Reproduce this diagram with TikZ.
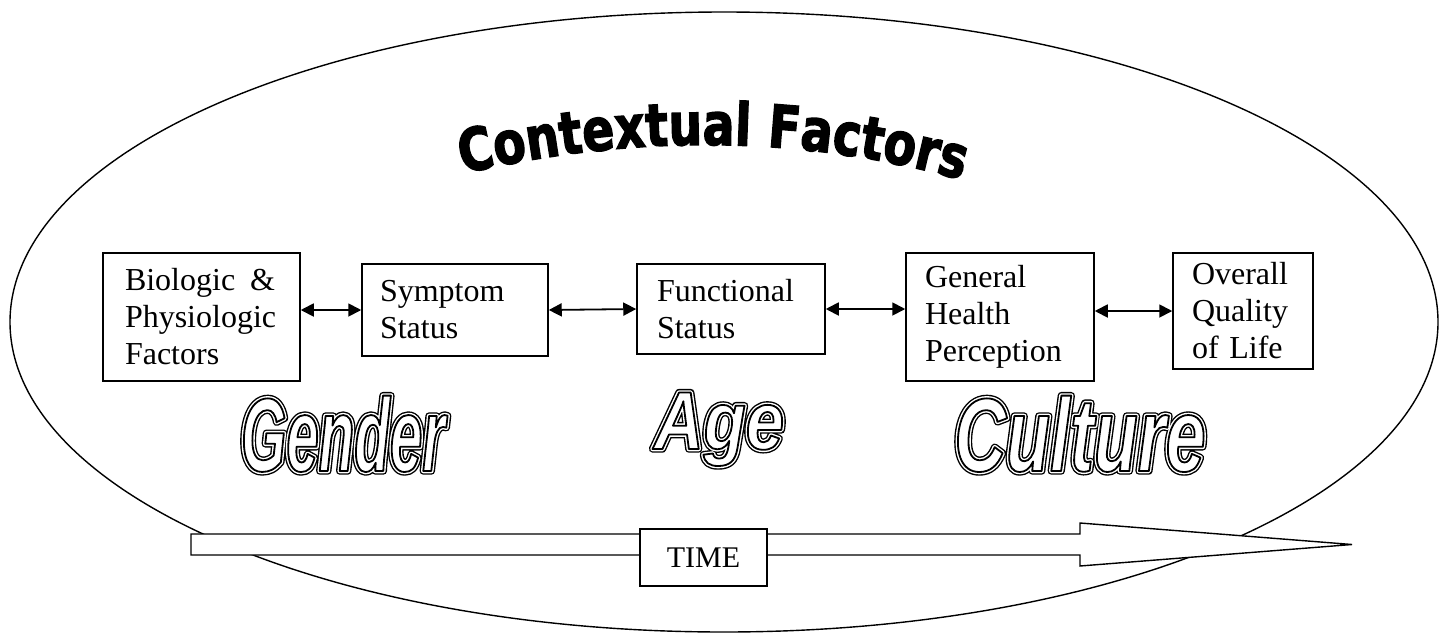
\documentclass[tikz,border=0pt]{standalone}
\usepackage{fontspec}
\setmainfont{Liberation Serif}
\newfontfamily\headfont[FakeStretch=0.8,FakeBold=2.2]{DejaVu Sans}
\newfontfamily\wordfont{Liberation Sans}
\usetikzlibrary{arrows.meta,decorations.text}

% hollow lettering by text render modes: wide black stroke, narrower white
% stroke, then white face with a thin black edge
\newcommand\rmode[1]{\special{pdf:literal direct #1}}
\newcommand\hollow[2]{{\wordfont\bfseries\itshape\addfontfeature{FakeStretch=#1}%
  \makebox[0pt][l]{\color{black}\rmode{1 j 7.4 w 1 Tr}#2\rmode{0 Tr}}%
  \makebox[0pt][l]{\color{white}\rmode{1 j 4.6 w 1 Tr}#2\rmode{0 Tr}}%
  {\color{white}\rmode{0 G 1 j 1.8 w 2 Tr}#2\rmode{0 Tr}}}}

\tikzset{
  stagebox/.style={draw, line width=1.5pt, fill=white, align=left,
    font=\fontsize{32}{37}\selectfont},
  link/.style={line width=1.8pt,
    {Triangle[length=13pt,width=13pt]}-{Triangle[length=13pt,width=13pt]}},
  bigword/.style={anchor=base, inner sep=0pt}
}

\begin{document}
\begin{tikzpicture}[x=1pt,y=-1pt]
\useasboundingbox (0,0) rectangle (1443,635);

% surrounding context
\draw[line width=1.4pt] (724,322) ellipse [x radius=714pt, y radius=310pt];

% time arrow
\draw[line width=1.4pt, fill=white]
  (191,534) -- (1080,534) -- (1080,523) -- (1352,544.5) -- (1080,566)
  -- (1080,555) -- (191,555) -- cycle;
\node[draw, line width=1.4pt, fill=white, minimum width=127pt, minimum height=57pt,
  font=\fontsize{30}{34}\selectfont] (time) at (703.5,557.5) {TIME};

% heading on an arch
\path[decorate, decoration={text along path, text align=center,
  text={|\headfont\bfseries\fontsize{59}{59}\selectfont|Contextual Factors}}]
  (470,172) .. controls (640,134) and (800,136) .. (955,178);

% stages
\node[stagebox, minimum width=197pt, minimum height=128pt, text width=153pt, inner xsep=22pt]
  (bio) at (201.5,317) {Biologic\hspace{15pt}\&\\Physiologic\\Factors};
\node[stagebox, minimum width=186pt, minimum height=92pt, text width=150pt, inner xsep=18pt]
  (sym) at (455,310) {Symptom\\Status};
\node[stagebox, minimum width=188pt, minimum height=90pt, text width=148pt, inner xsep=20pt]
  (fun) at (731,309) {Functional\\Status};
\node[stagebox, minimum width=188pt, minimum height=128pt, text width=150pt, inner xsep=19pt]
  (ghp) at (1000,317) {General\\Health\\Perception};
\node[stagebox, minimum width=140pt, minimum height=116pt, text width=102pt, inner xsep=19pt]
  (qol) at (1243,311) {Overall\\Quality\\of Life};

\draw[link] (sym.west -| bio.east) -- (sym.west);
\draw[link] (sym.east) -- (fun.west);
\draw[link] (fun.east) -- (fun.east -| ghp.west);
\draw[link] (qol.west -| ghp.east) -- (qol.west);

% contextual factors
\node[bigword, font=\fontsize{104}{110}\selectfont] (gender) at (343,471) {\hollow{0.56}{Gender}};
\node[bigword, font=\fontsize{82}{88}\selectfont] (age) at (719,449) {\hollow{0.84}{Age}};
\node[bigword, font=\fontsize{104}{110}\selectfont] (culture) at (1080,471) {\hollow{0.69}{Culture}};
\end{tikzpicture}
\end{document}
